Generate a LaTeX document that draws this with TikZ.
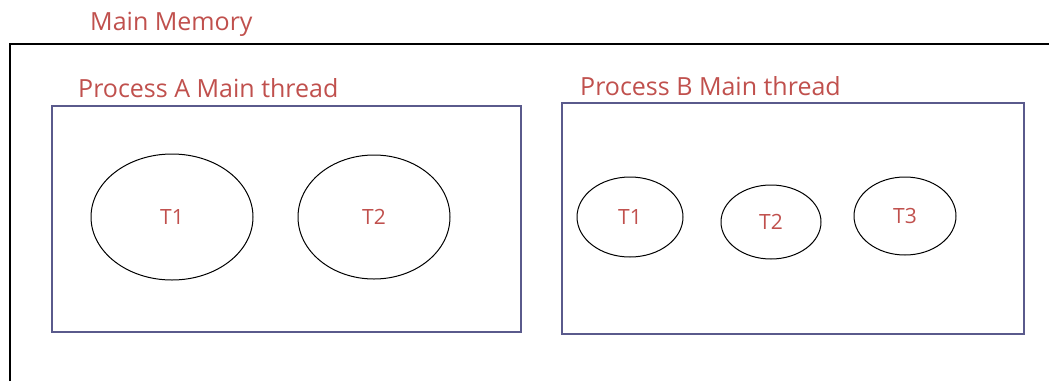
\documentclass[tikz,border=0pt]{standalone}
\usepackage{fontspec}
\setmainfont{Open Sans}
\usetikzlibrary{shapes.geometric}
\definecolor{lblred}{RGB}{192,80,77}
\definecolor{boxblue}{RGB}{90,90,140}
\tikzset{
	lbl/.style={anchor=west, inner sep=0pt, text=lblred, font=\fontsize{25}{28}\selectfont},
	procbox/.style={draw=boxblue, line width=1.3pt},
	thread/.style={draw=black, ellipse, line width=1pt, inner sep=0pt, text=lblred, font=\fontsize{21}{24}\selectfont}
}
\begin{document}
\begin{tikzpicture}[x=1pt, y=-1pt]
	\useasboundingbox (0, 0) rectangle (1049, 381);
	% main memory, cut off at right and bottom
	\draw[line width=1.3pt] (10, 381) -- (10, 44) -- (1049, 44);
	\node[lbl] (memlbl) at (90, 24) {Main Memory};

	% process A
	\draw[procbox] (52, 106) rectangle (521, 332);
		\node[lbl] (procAlbl) at (78, 88) {Process A Main thread};
		\node[thread, minimum width=162pt, minimum height=126pt] (a1) at (172, 217) {T1};
		\node[thread, minimum width=152pt, minimum height=124pt] (a2) at (374, 217) {T2};

	% process B
	\draw[procbox] (562, 103) rectangle (1024, 334);
		\node[lbl] (procBlbl) at (580, 86) {Process B Main thread};
		\node[thread, minimum width=106pt, minimum height=80pt] (b1) at (630, 217) {T1};
		\node[thread, minimum width=100pt, minimum height=74pt] (b2) at (771, 222) {T2};
		\node[thread, minimum width=102pt, minimum height=78pt] (b3) at (905, 216) {T3};
\end{tikzpicture}
\end{document}
